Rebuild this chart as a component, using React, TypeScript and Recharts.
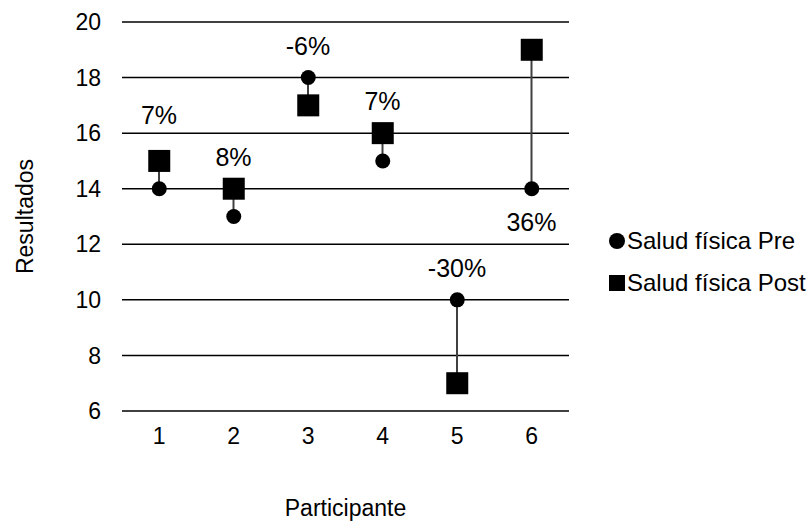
import React from 'react';
import { ComposedChart, Bar, Scatter, XAxis, YAxis, CartesianGrid, LabelList, Label } from 'recharts';

const participants = ['1', '2', '3', '4', '5', '6'];
const preScores = [14, 13, 18, 15, 10, 14];
const postScores = [15, 14, 17, 16, 7, 19];
const changeLabels = ['7%', '8%', '-6%', '7%', '-30%', '36%'];
const yTicks = [6, 8, 10, 12, 14, 16, 18, 20];

// label placement: under the lower marker for participant 6, first label lifted clear of the grid line
const labelBelow = [false, false, false, false, false, true];
const labelNudge = [14, 0, 0, 0, 0, 0];

const FONT = '"Liberation Sans", Arial, sans-serif';

const data = participants.map((p, i) => ({
    p,
    pre: preScores[i],
    post: postScores[i],
    span: [Math.min(preScores[i], postScores[i]), Math.max(preScores[i], postScores[i])],
    change: changeLabels[i],
}));

const Dot = (props: any) => <circle cx={props.cx} cy={props.cy} r={7.5} fill="#000" />;
const Square = (props: any) => <rect x={props.cx - 11} y={props.cy - 11} width={22} height={22} fill="#000" />;

const ChangeLabel = (props: any) => {
    const vb = props.viewBox || {};
    const x = props.x ?? vb.x;
    const y = props.y ?? vb.y;
    const w = props.width ?? vb.width ?? 0;
    const h = props.height ?? vb.height ?? 0;
    const below = labelBelow[props.index];
    const ty = below ? y + h + 33 : y - 32 - labelNudge[props.index];
    return (
        <text x={x + w / 2} y={ty} textAnchor="middle" dominantBaseline="central"
            fontFamily={FONT} fontSize={25} fill="#000">
            {props.value}
        </text>
    );
};

// legend sits to the right of the plot, outside the chart's layout box
const LegendBox = () => (
    <div style={{ position: 'absolute', left: 609, top: 220, fontFamily: FONT, fontSize: 24, color: '#000', lineHeight: '28px' }}>
        <div style={{ display: 'flex', alignItems: 'center', height: 42 }}>
            <svg width={16} height={16}><circle cx={8} cy={8} r={8} fill="#000" /></svg>
            <span style={{ marginLeft: 2, whiteSpace: 'nowrap' }}>Salud física Pre</span>
        </div>
        <div style={{ display: 'flex', alignItems: 'center', height: 42 }}>
            <svg width={16} height={16}><rect x={0} y={0} width={16} height={16} fill="#000" /></svg>
            <span style={{ marginLeft: 2, whiteSpace: 'nowrap' }}>Salud física Post</span>
        </div>
    </div>
);

export default function App() {
    return (
        <div style={{ position: 'absolute', left: 0, top: 0, width: 809, height: 521, overflow: 'hidden', background: '#fff' }}>
            <ComposedChart width={809} height={521} data={data}
                margin={{ top: 22, right: 240, bottom: 0, left: 0 }}>
                <CartesianGrid vertical={false} stroke="#000" strokeWidth={1.5} />
                <XAxis dataKey="p" height={110} axisLine={false} tickLine={false} tickSize={0} tickMargin={17}
                    tick={{ fill: '#000', fontSize: 23, fontFamily: FONT }}>
                    <Label content={(lp: any) => {
                        const vb = lp.viewBox;
                        return (
                            <text x={vb.x + vb.width / 2} y={vb.y + vb.height - 13} textAnchor="middle"
                                dominantBaseline="central" fontFamily={FONT} fontSize={23} fill="#000">
                                Participante
                            </text>
                        );
                    }} />
                </XAxis>
                <YAxis width={122} domain={[6, 20]} ticks={yTicks} axisLine={false} tickLine={false}
                    tickSize={0} tickMargin={21} interval={0}
                    tick={{ fill: '#000', fontSize: 23, fontFamily: FONT }}
                    label={{
                        content: (lp: any) => {
                            const vb = lp.viewBox;
                            const cx = vb.x + 25;
                            const cy = vb.y + vb.height / 2;
                            return (
                                <text x={cx} y={cy} transform={`rotate(-90 ${cx} ${cy})`} textAnchor="middle"
                                    dominantBaseline="central" fontFamily={FONT} fontSize={23} fill="#000">
                                    Resultados
                                </text>
                            );
                        },
                    }} />
                <Bar dataKey="span" barSize={2} fill="#404040" isAnimationActive={false} legendType="none">
                    <LabelList dataKey="change" content={<ChangeLabel />} />
                </Bar>
                <Scatter dataKey="pre" name="Salud física Pre" shape={<Dot />} isAnimationActive={false} />
                <Scatter dataKey="post" name="Salud física Post" shape={<Square />} isAnimationActive={false} />
            </ComposedChart>
            <LegendBox />
        </div>
    );
}
